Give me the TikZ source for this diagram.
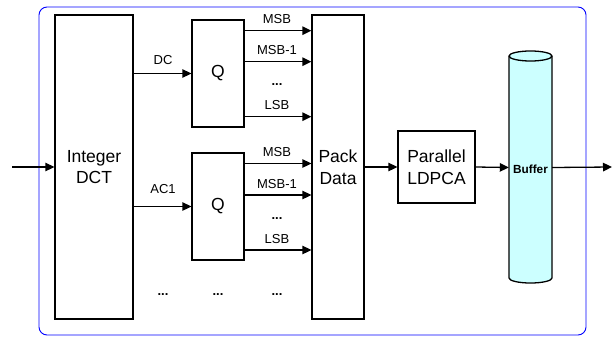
\documentclass[tikz,border=0pt]{standalone}
\usepackage{fontspec}
\setmainfont{Liberation Sans}
\usetikzlibrary{arrows.meta}
\begin{document}
\begin{tikzpicture}[x=1pt,y=-1pt,
  blk/.style={draw=black,line width=1.3pt,fill=white,inner sep=0pt,align=center,
    font=\fontsize{17.5}{21.5}\selectfont},
  arr/.style={line width=1.3pt,-{Triangle[length=9pt,width=8.5pt]}},
  lbl/.style={font=\fontsize{13}{15}\selectfont,inner sep=0pt},
  dots/.style={font=\fontsize{13}{15}\selectfont\bfseries,inner sep=0pt}]
\useasboundingbox (0,0) rectangle (615,337);
% frame
\draw[blue,line width=0.9pt,rounded corners=8pt] (39,7) rectangle (586,335);
% blocks
\node[blk,minimum width=78pt,minimum height=304pt] (dct) at (94,167) {Integer\\DCT};
\node[blk,minimum width=52pt,minimum height=107pt] (q1) at (218,73.5) {Q};
\node[blk,minimum width=52pt,minimum height=107pt] (q2) at (218,206.5) {Q};
\node[blk,minimum width=52pt,minimum height=304pt] (pack) at (338,167) {Pack\\Data};
\node[blk,minimum width=77pt,minimum height=72pt] (ldpca) at (436.5,167) {Parallel\\LDPCA};
% buffer cylinder
\node[inner sep=0pt,minimum width=43pt,minimum height=231pt] (buf) at (530.5,167.5) {};
\draw[line width=1.3pt,fill={rgb,255:red,204;green,255;blue,255}]
  (509,56) -- (509,278) arc[start angle=180,end angle=360,x radius=21.5pt,y radius=5pt]
  -- (552,56) arc[start angle=0,end angle=180,x radius=21.5pt,y radius=5pt] -- cycle;
\draw[line width=1.3pt] (509,56) arc[start angle=180,end angle=360,x radius=21.5pt,y radius=5pt];
\node[font=\fontsize{11.8}{14}\selectfont\bfseries,inner sep=0pt] (buftxt) at (530.5,169) {Buffer};
% in / out
\coordinate (in) at (12,167);
\coordinate (out) at (612,167);
\draw[arr] (in) -- (dct.west);
\draw[arr] (pack.east) -- (ldpca.west);
\draw[arr] (ldpca.east) -- (buf.west);
\draw[arr] (buf.east) -- (out);
% DCT -> Q
\draw[arr] (dct.east |- q1.west) -- (q1.west);
\draw[arr] (dct.east |- q2.west) -- (q2.west);
\node[lbl] (dc) at (163,60) {DC};
\node[lbl] (ac1) at (163,189) {AC1};
% Q1 outputs
\draw[arr] (q1.east |- 0,30.7) -- (pack.west |- 0,30.7);
\draw[arr] (q1.east |- 0,61.7) -- (pack.west |- 0,61.7);
\draw[arr] (q1.east |- 0,116.7) -- (pack.west |- 0,116.7);
\node[lbl] (m1) at (277,19) {MSB};
\node[lbl] (m11) at (277,50.5) {MSB-1};
\node[dots] (d1) at (277,85) {...};
\node[lbl] (l1) at (277,105.5) {LSB};
% Q2 outputs
\draw[arr] (q2.east |- 0,163.5) -- (pack.west |- 0,163.5);
\draw[arr] (q2.east |- 0,195) -- (pack.west |- 0,195);
\draw[arr] (q2.east |- 0,250) -- (pack.west |- 0,250);
\node[lbl] (m2) at (277,152.5) {MSB};
\node[lbl] (m21) at (277,184) {MSB-1};
\node[dots] (d2) at (277,219) {...};
\node[lbl] (l2) at (277,239) {LSB};
% bottom dots
\node[dots] (b1) at (163,295) {...};
\node[dots] (b2) at (218,295) {...};
\node[dots] (b3) at (277,295) {...};
\end{tikzpicture}
\end{document}
